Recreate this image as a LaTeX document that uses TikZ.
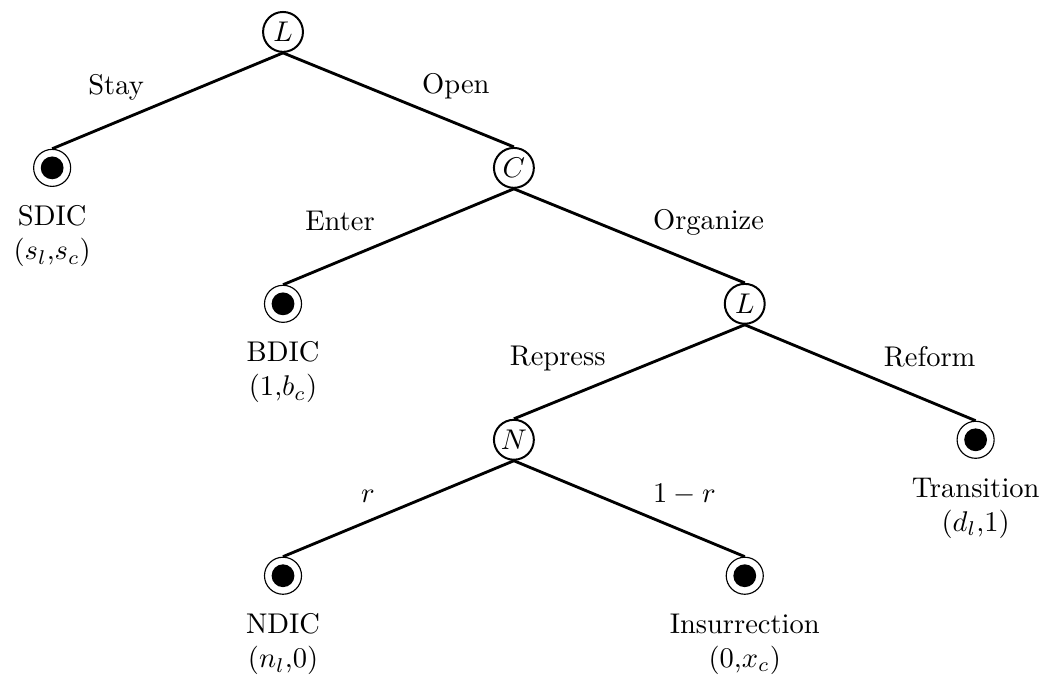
\documentclass[tikz,border=0pt]{standalone}
\usepackage{amssymb}
\usepackage{amsmath}
\usetikzlibrary{positioning}

\begin{document}
\begin{tikzpicture}[
    decision/.style = {circle, draw=black, line width=0.7pt, minimum size=14pt, inner sep=0pt},
    terminal/.style = {circle, draw=black, thin, minimum size=13pt, inner sep=0pt,
        path picture={\fill[black] (path picture bounding box.center) circle (4pt);}},
    payoff/.style = {align=center},
    move/.style = {line width=1pt},
    leftlabel/.style = {anchor=base east, xshift=-4.5pt, yshift=2.2pt},
    rightlabel/.style = {anchor=base west, xshift=4.5pt, yshift=2.2pt},
    node distance = 47.7pt and 81pt, on grid]
     \useasboundingbox (-99.3pt,11.2pt) rectangle (269.8pt,-228.8pt);
     % players and outcomes
     \node[decision] (L1) {$L$};
     \node[terminal] (sdic) [below left=of L1] {};
     \node[decision] (C) [below right=of L1] {$C$};
     \node[terminal] (bdic) [below left=of C] {};
     \node[decision] (L2) [below right=of C] {$L$};
     \node[decision] (N) [below left=of L2] {$N$};
     \node[terminal] (trans) [below right=of L2] {};
     \node[terminal] (ndic) [below left=of N] {};
     \node[terminal] (insur) [below right=of N] {};
     % payoffs
     \node[payoff] (sdicpay) [below=24pt of sdic] {SDIC\\$(s_l$,$s_c)$};
     \node[payoff] (bdicpay) [below=24pt of bdic] {BDIC\\$(1$,$b_c)$};
     \node[payoff] (transpay) [below=24pt of trans] {Transition\\$(d_l$,$1)$};
     \node[payoff] (ndicpay) [below=24pt of ndic] {NDIC\\$(n_l$,$0)$};
     \node[payoff] (insurpay) [below=24pt of insur] {Insurrection\\$(0$,$x_c)$};
     % moves
     \draw[move] (L1.south) -- node[leftlabel] (stay) {Stay} (sdic.north);
     \draw[move] (L1.south) -- node[rightlabel] (open) {Open} (C.north);
     \draw[move] (C.south) -- node[leftlabel] (enter) {Enter} (bdic.north);
     \draw[move] (C.south) -- node[rightlabel] (organize) {Organize} (L2.north);
     \draw[move] (L2.south) -- node[leftlabel] (repress) {Repress} (N.north);
     \draw[move] (L2.south) -- node[rightlabel] (reform) {Reform} (trans.north);
     \draw[move] (N.south) -- node[leftlabel] (rprob) {$r$} (ndic.north);
     \draw[move] (N.south) -- node[rightlabel] (notr) {$1-r$} (insur.north);
\end{tikzpicture}
\end{document}
